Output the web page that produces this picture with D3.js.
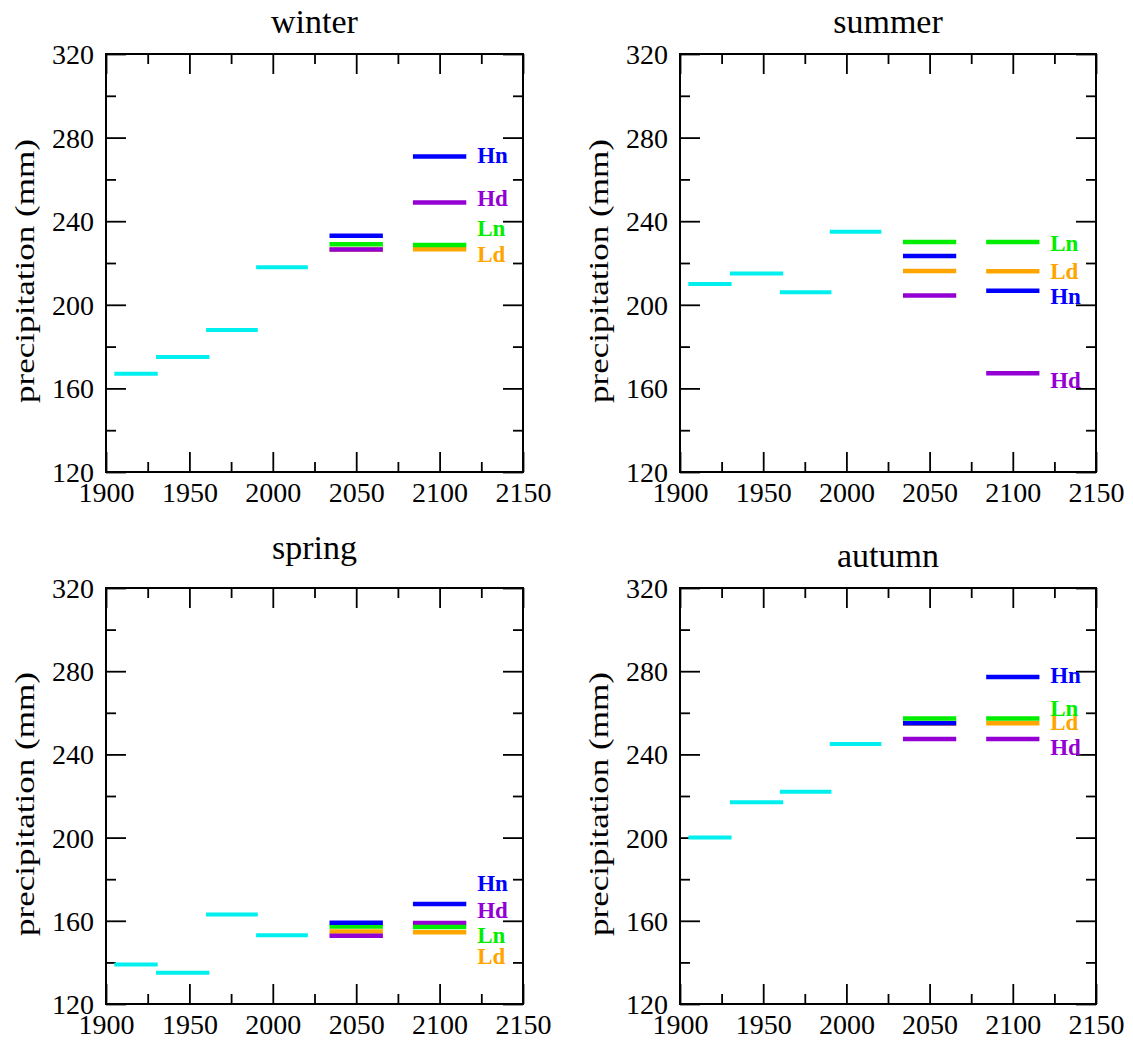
<!DOCTYPE html>
<html>
<head>
<meta charset="utf-8">
<script src="https://cdn.jsdelivr.net/npm/d3@7/dist/d3.min.js"></script>
<style>
  html, body { margin: 0; padding: 0; background: #fff; }
  svg { display: block; }
  text { font-family: "Liberation Serif", "Times New Roman", serif; fill: #000; }
</style>
</head>
<body>
<script>
// ---------------- data ----------------
const seasons = ["winter", "summer", "spring", "autumn"];
const xTicksMajor = [1900, 1950, 2000, 2050, 2100, 2150];
const xTicksMinor = [1925, 1975, 2025, 2075, 2125];
const yTicksMajor = [120, 160, 200, 240, 280, 320];
const yTicksMinor = [140, 180, 220, 260, 300];

// observed periods (start, end years as drawn)
const histStart = [1905, 1930, 1960, 1990];
const histEnd   = [1931, 1962, 1991, 2021];
// future periods
const futStart = [2034, 2084];
const futEnd   = [2066, 2116];

const scenarios = ["Ld", "Hd", "Ln", "Hn"];   // draw order
const scenarioColors = ["#ffa500", "#9400d3", "#00ee00", "#0000ff"];
const obsColor = "#00f0f0";

// observed precipitation (mm)
const winterObs = [167, 175, 188, 218];
const summerObs = [210, 215, 206, 235];
const springObs = [139, 135, 163, 153];
const autumnObs = [200, 217, 222, 245];

// scenario precipitation (mm) for [2036-2065, 2071-2100]
const winterLd = [226.5, 226.6], winterHd = [226.5, 249.0], winterLn = [229.0, 228.6], winterHn = [233.0, 271.0];
const summerLd = [216.2, 216.0], summerHd = [204.4, 167.2], summerLn = [230.0, 230.0], summerHn = [223.3, 206.7];
const springLd = [154.8, 154.5], springHd = [152.8, 159.0], springLn = [157.2, 157.0], springHn = [159.1, 168.1];
const autumnLd = [254.8, 255.0], autumnHd = [247.4, 247.4], autumnLn = [257.2, 257.2], autumnHn = [255.0, 277.2];

// label anchor values (mm) for scenario names at right
const winterLab = [224.3, 251.1, 236.7, 271.7];
const summerLab = [216.2, 164.0, 229.7, 204.1];
const springLab = [142.9, 165.4, 153.2, 178.0];
const autumnLab = [255.6, 243.6, 262.3, 278.2];
const labelYear = 2122.5;

const yLabel = "precipitation (mm)";

// ---------------- build ----------------
const seasonData = {
  winter: { obs: winterObs, sc: [winterLd, winterHd, winterLn, winterHn], lab: winterLab },
  summer: { obs: summerObs, sc: [summerLd, summerHd, summerLn, summerHn], lab: summerLab },
  spring: { obs: springObs, sc: [springLd, springHd, springLn, springHn], lab: springLab },
  autumn: { obs: autumnObs, sc: [autumnLd, autumnHd, autumnLn, autumnHn], lab: autumnLab }
};

const layout = {
  winter: { x0: 106, x1: 523, y0: 54,  y1: 472,  titleY: 33 },
  summer: { x0: 680, x1: 1096, y0: 54, y1: 472,  titleY: 33 },
  spring: { x0: 106, x1: 523, y0: 588, y1: 1004, titleY: 559 },
  autumn: { x0: 680, x1: 1096, y0: 588, y1: 1004, titleY: 567 }
};

const svg = d3.select("body").append("svg")
  .attr("width", 1133).attr("height", 1041);

seasons.forEach(season => {
  const L = layout[season];
  const D = seasonData[season];
  const x = d3.scaleLinear().domain([1900, 2150]).range([L.x0, L.x1]);
  const y = d3.scaleLinear().domain([120, 320]).range([L.y1, L.y0]);
  const g = svg.append("g");

  // title
  g.append("text")
    .attr("x", (L.x0 + L.x1) / 2).attr("y", L.titleY)
    .attr("text-anchor", "middle")
    .style("font-size", "34px")
    .text(season);

  // y label
  const cy = (L.y0 + L.y1) / 2 + 8;
  g.append("text")
    .attr("transform", `translate(${L.x0 - 78},${cy}) rotate(-90)`)
    .attr("text-anchor", "middle")
    .attr("dy", "0.24em")
    .attr("textLength", 264)
    .attr("lengthAdjust", "spacingAndGlyphs")
    .style("font-size", "27px")
    .text(yLabel);

  // axes (ticks inward on all four sides)
  const tickStyle = sel => {
    sel.select(".domain").remove();
    sel.selectAll(".tick line").attr("stroke", "#000").attr("stroke-width", 1.8);
    sel.selectAll(".tick text").style("font-size", "28px").style("font-family", "Liberation Serif, serif").attr("fill", "#000");
  };

  // bottom
  g.append("g").attr("transform", `translate(0,${L.y1})`)
    .call(d3.axisBottom(x).tickValues(xTicksMinor).tickSize(-10).tickFormat(""))
    .call(tickStyle);
  g.append("g").attr("transform", `translate(0,${L.y1})`)
    .call(d3.axisBottom(x).tickValues(xTicksMajor).tickSize(-20).tickPadding(0).tickFormat(d3.format("d")))
    .call(tickStyle)
    .call(s => s.selectAll(".tick text").attr("y", 30).attr("dy", null));
  // top
  g.append("g").attr("transform", `translate(0,${L.y0})`)
    .call(d3.axisTop(x).tickValues(xTicksMinor).tickSize(-10).tickFormat(""))
    .call(tickStyle);
  g.append("g").attr("transform", `translate(0,${L.y0})`)
    .call(d3.axisTop(x).tickValues(xTicksMajor).tickSize(-20).tickFormat(""))
    .call(tickStyle);
  // left
  g.append("g").attr("transform", `translate(${L.x0},0)`)
    .call(d3.axisLeft(y).tickValues(yTicksMinor).tickSize(-10).tickFormat(""))
    .call(tickStyle);
  g.append("g").attr("transform", `translate(${L.x0},0)`)
    .call(d3.axisLeft(y).tickValues(yTicksMajor).tickSize(-20).tickFormat(d3.format("d")))
    .call(tickStyle)
    .call(s => s.selectAll(".tick text").attr("x", -12).attr("dy", "0.34em"));
  // right
  g.append("g").attr("transform", `translate(${L.x1},0)`)
    .call(d3.axisRight(y).tickValues(yTicksMinor).tickSize(-10).tickFormat(""))
    .call(tickStyle);
  g.append("g").attr("transform", `translate(${L.x1},0)`)
    .call(d3.axisRight(y).tickValues(yTicksMajor).tickSize(-20).tickFormat(""))
    .call(tickStyle);

  // frame
  g.append("rect")
    .attr("x", L.x0).attr("y", L.y0)
    .attr("width", L.x1 - L.x0).attr("height", L.y1 - L.y0)
    .attr("fill", "none").attr("stroke", "#000").attr("stroke-width", 2);

  // observed segments
  g.selectAll("line.obs").data(D.obs).enter().append("line")
    .attr("class", "obs")
    .attr("x1", (d, i) => x(histStart[i])).attr("x2", (d, i) => x(histEnd[i]))
    .attr("y1", d => y(d)).attr("y2", d => y(d))
    .attr("stroke", obsColor).attr("stroke-width", 4);

  // scenario segments
  scenarios.forEach((sc, k) => {
    g.selectAll("line.sc" + k).data(D.sc[k]).enter().append("line")
      .attr("class", "sc" + k)
      .attr("x1", (d, i) => x(futStart[i])).attr("x2", (d, i) => x(futEnd[i]))
      .attr("y1", d => y(d)).attr("y2", d => y(d))
      .attr("stroke", scenarioColors[k]).attr("stroke-width", 4.5);
  });

  // scenario labels
  scenarios.forEach((sc, k) => {
    g.append("text")
      .attr("x", x(labelYear)).attr("y", y(D.lab[k]))
      .attr("dy", "0.35em")
      .style("font-size", "23px").style("font-weight", "bold")
      .style("fill", scenarioColors[k])
      .text(sc);
  });
});
</script>
</body>
</html>
